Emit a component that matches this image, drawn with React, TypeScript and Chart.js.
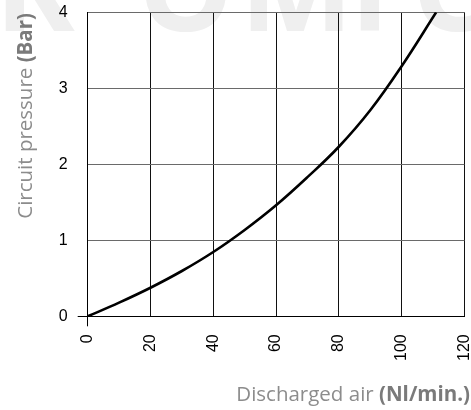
import { useEffect, useRef } from "react";
import { Chart, registerables } from "chart.js";

Chart.register(...registerables);

// Discharged air (Nl/min.)
const airFlow = [0, 10, 20, 30, 40, 50, 60, 70, 80, 90, 100, 111];
// Circuit pressure (Bar)
const pressure = [0, 0.18, 0.376, 0.596, 0.846, 1.136, 1.461, 1.831, 2.231, 2.711, 3.291, 4.0];

const xTickValues = [0, 20, 40, 60, 80, 100, 120];
const yTickValues = [0, 1, 2, 3, 4];

const xTitleNormal = "Discharged air ";
const xTitleBold = "(Nl/min.)";
const yTitleNormal = "Circuit pressure ";
const yTitleBold = "(Bar)";
const watermark: [string, number][] = [
  ["K", -5],
  ["O", 138],
  ["M", 240],
  ["P", 350],
  ["C", 412],
];

const TICK_FONT = "'Liberation Sans', Arial, sans-serif";
const TITLE_FONT = "'Open Sans', sans-serif";
const TITLE_SIZE = 20.5;

const decorPlugin = {
  id: "decor",
  beforeDraw(chart: any) {
    const ctx = chart.ctx as CanvasRenderingContext2D;
    ctx.save();
    ctx.fillStyle = "#efefef";
    ctx.font = `bold 120px ${TITLE_FONT}`;
    ctx.textBaseline = "alphabetic";
    ctx.textAlign = "left";
    for (const [ch, x] of watermark) ctx.fillText(ch, x, 31);
    ctx.restore();
  },
  afterDraw(chart: any) {
    const ctx = chart.ctx as CanvasRenderingContext2D;
    ctx.save();
    ctx.textBaseline = "alphabetic";
    ctx.textAlign = "left";
    const normal = `${TITLE_SIZE}px ${TITLE_FONT}`;
    const bold = `bold ${TITLE_SIZE}px ${TITLE_FONT}`;
    // X title, right aligned
    ctx.font = bold;
    const xb = ctx.measureText(xTitleBold).width;
    ctx.font = normal;
    const xn = ctx.measureText(xTitleNormal).width;
    const xRight = 470;
    const xBase = 401;
    ctx.fillStyle = "#8c8c8c";
    ctx.fillText(xTitleNormal, xRight - xb - xn, xBase);
    ctx.font = bold;
    ctx.fillStyle = "#7a7a7a";
    ctx.fillText(xTitleBold, xRight - xb, xBase);

    // Y title, rotated
    ctx.translate(32, 13);
    ctx.rotate(-Math.PI / 2);
    ctx.font = bold;
    const yb = ctx.measureText(yTitleBold).width;
    ctx.font = normal;
    const yn = ctx.measureText(yTitleNormal).width;
    ctx.fillStyle = "#8c8c8c";
    ctx.fillText(yTitleNormal, -yb - yn, 0);
    ctx.font = bold;
    ctx.fillStyle = "#7a7a7a";
    ctx.fillText(yTitleBold, -yb, 0);
    ctx.restore();
  },
};

export default function App() {
  const canvasRef = useRef<HTMLCanvasElement | null>(null);

  useEffect(() => {
    document.body.style.margin = "0";
    const canvas = canvasRef.current;
    if (!canvas) return;
    const tickColor = (c: any) => (c.tick && c.tick.value === 0 ? "#000" : "rgba(0,0,0,0)");
    const chart = new Chart(canvas, {
      type: "line",
      data: {
        datasets: [
          {
            data: airFlow.map((x, i) => ({ x, y: pressure[i] })),
            borderColor: "#000",
            borderWidth: 2.6,
            pointRadius: 0,
            fill: false,
            tension: 0.4,
          },
        ],
      },
      options: {
        animation: false,
        responsive: false,
        devicePixelRatio: 1,
        layout: { padding: { top: 12.3, right: 6.6, left: 0, bottom: 0 } },
        plugins: { legend: { display: false }, tooltip: { enabled: false }, title: { display: false } },
        scales: {
          x: {
            type: "linear",
            min: 0,
            max: 120,
            afterBuildTicks: (s: any) => {
              s.ticks = xTickValues.map((v) => ({ value: v }));
            },
            afterFit: (s: any) => {
              s.height = 93.7;
              s.paddingLeft = 0;
              s.paddingRight = 0;
            },
            grid: { color: "#111", lineWidth: 1, tickLength: 10, tickColor },
            border: { color: "#000", width: 1 },
            ticks: {
              minRotation: 90,
              maxRotation: 90,
              padding: 8,
              color: "#000",
              font: { family: TICK_FONT, size: 16 },
            },
          },
          y: {
            type: "linear",
            min: 0,
            max: 4,
            afterBuildTicks: (s: any) => {
              s.ticks = yTickValues.map((v) => ({ value: v }));
            },
            afterFit: (s: any) => {
              s.width = 87.7;
              s.paddingTop = 0;
              s.paddingBottom = 0;
            },
            grid: { color: "#6a6a6a", lineWidth: 1, tickLength: 10, tickColor },
            border: { color: "#000", width: 1 },
            ticks: {
              padding: 10,
              color: "#000",
              font: { family: TICK_FONT, size: 16 },
            },
          },
        },
      },
      plugins: [decorPlugin],
    } as any);
    return () => chart.destroy();
  }, []);

  return (
    <div style={{ position: "absolute", left: 0, top: 0, width: 471, height: 410 }}>
      <canvas ref={canvasRef} width={471} height={410} style={{ width: 471, height: 410, display: "block" }} />
    </div>
  );
}
